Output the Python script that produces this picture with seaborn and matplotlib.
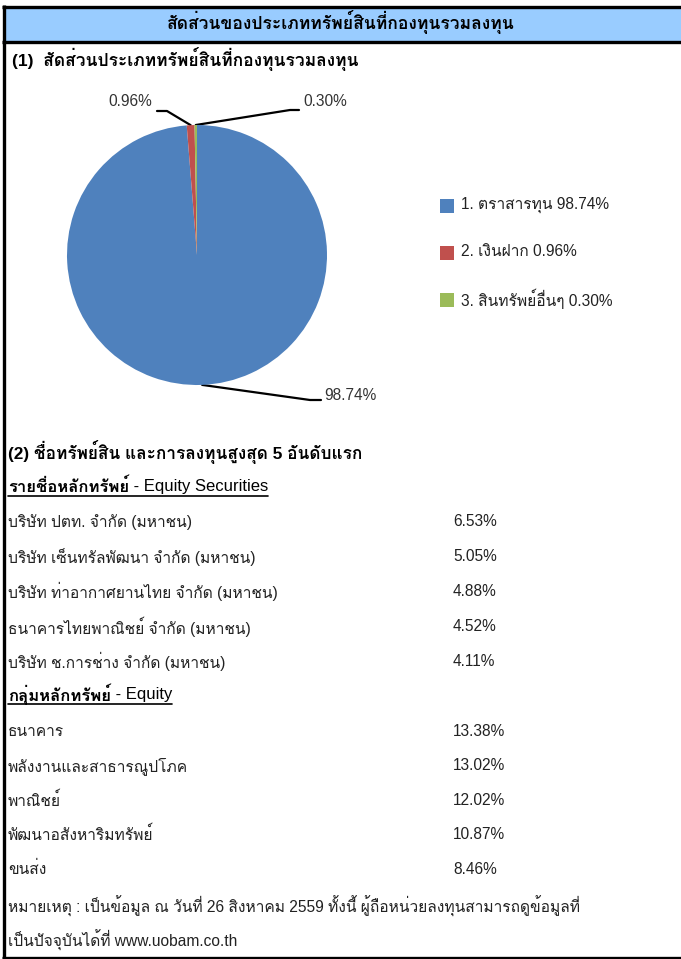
import matplotlib
matplotlib.use("Agg")
import numpy as np
import matplotlib.pyplot as plt
import seaborn as sns

sns.set_style("white")
FONT = ["Liberation Sans", "Loma", "DejaVu Sans"]
plt.rcParams["font.family"] = FONT

# =========================
# Data
# =========================
title = "สัดส่วนของประเภททรัพย์สินที่กองทุนรวมลงทุน"
section1 = "(1)  สัดส่วนประเภททรัพย์สินที่กองทุนรวมลงทุน"
section2 = "(2) ชื่อทรัพย์สิน และการลงทุนสูงสุด 5 อันดับแรก"

asset_names = ["1. ตราสารทุน", "2. เงินฝาก", "3. สินทรัพย์อื่นๆ"]
asset_pct = [98.74, 0.96, 0.30]
asset_colors = ["#4F81BD", "#C0504D", "#9BBB59"]

sec_head_th = "รายชื่อหลักทรัพย์"
sec_head_en = " - Equity Securities"
sec_names = [
    "บริษัท ปตท. จำกัด (มหาชน)",
    "บริษัท เซ็นทรัลพัฒนา จำกัด (มหาชน)",
    "บริษัท ท่าอากาศยานไทย จำกัด (มหาชน)",
    "ธนาคารไทยพาณิชย์ จำกัด (มหาชน)",
    "บริษัท ช.การช่าง จำกัด (มหาชน)",
]
sec_pct = [6.53, 5.05, 4.88, 4.52, 4.11]

grp_head_th = "กลุ่มหลักทรัพย์"
grp_head_en = " - Equity"
grp_names = ["ธนาคาร", "พลังงานและสาธารณูปโภค", "พาณิชย์", "พัฒนาอสังหาริมทรัพย์", "ขนส่ง"]
grp_pct = [13.38, 13.02, 12.02, 10.87, 8.46]

note_lines = [
    "หมายเหตุ : เป็นข้อมูล ณ วันที่ 26 สิงหาคม 2559 ทั้งนี้ ผู้ถือหน่วยลงทุนสามารถดูข้อมูลที่",
    "เป็นปัจจุบันได้ที่ www.uobam.co.th",
]

# =========================
# Figure / page canvas (pixel coordinates)
# =========================
W, H = 681, 959
fig = plt.figure(figsize=(W / 100, H / 100), dpi=100)
page = fig.add_axes([0, 0, 1, 1])
page.set_xlim(0, W)
page.set_ylim(H, 0)
page.axis("off")

# frame + title bar
page.add_patch(plt.Rectangle((3.5, 6.5), W, 35, facecolor="#99CCFF", edgecolor="none"))
page.plot([2, W], [6.5, 6.5], color="black", lw=2.4, solid_capstyle="butt")
page.plot([2, W], [41.5, 41.5], color="black", lw=2.4, solid_capstyle="butt")
page.plot([3.5, 3.5], [5.3, H], color="black", lw=2.4, solid_capstyle="butt")
page.plot([2, W], [957.5, 957.5], color="black", lw=2.4, solid_capstyle="butt")

FS = 11.2
txt = dict(color="#222222", fontsize=FS, va="center")
page.text(341, 22, title, ha="center", va="center", fontsize=12.6, fontweight="bold", color="black")
page.text(12, 59, section1, ha="left", va="center", fontsize=12.5, fontweight="bold", color="black")

# =========================
# Pie
# =========================
cx, cy, r = 197, 255, 130
pie_ax = fig.add_axes([(cx - r) / W, 1 - (cy + r) / H, 2 * r / W, 2 * r / H])
wedges, _ = pie_ax.pie(asset_pct, colors=asset_colors, startangle=90, counterclock=False,
                       wedgeprops=dict(linewidth=0))
pie_ax.set_xlim(-1, 1)
pie_ax.set_ylim(-1, 1)
pie_ax.set_aspect("auto")

# labels with leader lines (start at the middle of each slice)
cum = np.cumsum([0] + asset_pct[:-1])
elbows = [[(310, 400), (321, 400)], [(167, 111), (157, 111)], [(290, 110), (299, 110)]]
label_xy = [(324, 395), (152, 102), (303, 102)]
label_ha = ["left", "right", "left"]
for i, pct in enumerate(asset_pct):
    mid = 90 - (cum[i] + pct / 2) / 100 * 360
    px = cx + r * np.cos(np.radians(mid))
    py = cy - r * np.sin(np.radians(mid))
    xs = [px] + [p[0] for p in elbows[i]]
    ys = [py] + [p[1] for p in elbows[i]]
    page.plot(xs, ys, color="black", lw=1.6)
    lx, ly = label_xy[i]
    page.text(lx, ly, f"{pct:.2f}%", ha=label_ha[i], va="center", fontsize=FS, color="#333333")

# legend
for i, (name, pct, col) in enumerate(zip(asset_names, asset_pct, asset_colors)):
    y = 206 + i * 47
    page.add_patch(plt.Rectangle((440, y - 7), 14, 14, facecolor=col, edgecolor="none"))
    page.text(461, y - 1, f"{name} {pct:.2f}%", ha="left", va="center", fontsize=FS, color="#222222")

# =========================
# Tables
# =========================
page.text(8, 452, section2, ha="left", va="center", fontsize=12.4, fontweight="bold", color="black")


def underlined_head(y, th, en):
    t1 = page.text(8, y, th, ha="left", va="center", fontsize=12, fontweight="bold", color="black")
    fig.canvas.draw()
    x1 = t1.get_window_extent().x1
    t2 = page.text(x1, y, en, ha="left", va="center", fontsize=12, color="black")
    fig.canvas.draw()
    x2 = t2.get_window_extent().x1
    page.plot([8, x2], [y + 9.5, y + 9.5], color="black", lw=1.2)


underlined_head(486, sec_head_th, sec_head_en)
for i, (name, pct) in enumerate(zip(sec_names, sec_pct)):
    y = 522 + i * 34.8
    page.text(8, y, name, ha="left", **txt)
    page.text(453, y, f"{pct:.2f}%", ha="left", **txt)

underlined_head(694, grp_head_th, grp_head_en)
for i, (name, pct) in enumerate(zip(grp_names, grp_pct)):
    y = 731 + i * 34.6
    page.text(8, y, name, ha="left", **txt)
    page.text(453, y, f"{pct:.2f}%", ha="left", **txt)

for i, line in enumerate(note_lines):
    page.text(8, 906 + i * 34, line, ha="left", **txt)

fig.savefig("out.png", dpi=100)
plt.close(fig)
